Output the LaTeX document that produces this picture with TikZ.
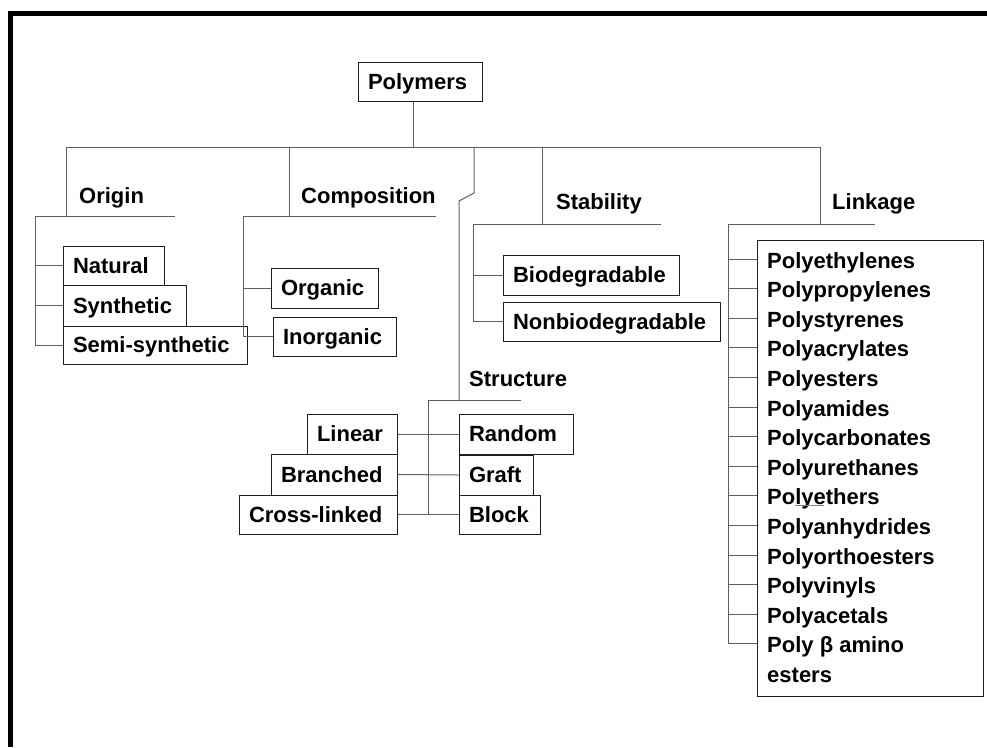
\documentclass[tikz,border=0pt]{standalone}
\usepackage{fontspec}
\setmainfont{Liberation Sans}
\definecolor{lncol}{RGB}{95,95,95}
\definecolor{bxcol}{RGB}{30,30,30}
\newcommand{\dgfont}{\bfseries\fontsize{22}{29.6}\selectfont}
\begin{document}
\begin{tikzpicture}[x=1pt,y=1pt,
  ln/.style={draw=lncol, line width=1pt},
  bx/.style={draw=bxcol, line width=1pt, rectangle, inner xsep=10pt, inner ysep=0pt,
    align=left, text height=15.75pt, text depth=0pt, font=\dgfont},
  lbl/.style={anchor=base west, inner sep=0pt, font=\dgfont},
  item/.style={anchor=base west, inner sep=0pt, font=\dgfont}]
\useasboundingbox (0,0) rectangle (987,-747);
% frame (top and left edges)
\fill[black] (8,-11) rectangle (987,-16);
\fill[black] (8,-11) rectangle (13,-747);

% boxes
\node[bx, text width=104pt, minimum height=39pt] (polymers) at (420,-81.5) {Polymers};
\node[bx, text width=81pt, minimum height=39pt] (natural) at (113.5,-265.5) {Natural};
\node[bx, text width=103pt, minimum height=41pt] (synthetic) at (124.5,-305.5) {Synthetic};
\node[bx, text width=164pt, minimum height=38pt] (semi) at (155,-345) {Semi-synthetic};
\node[bx, text width=87pt, minimum height=40pt] (organic) at (324.5,-288) {Organic};
\node[bx, text width=103pt, minimum height=39pt] (inorganic) at (334.5,-336.5) {Inorganic};
\node[bx, text width=156pt, minimum height=40pt] (bio) at (591,-275) {Biodegradable};
\node[bx, text width=197pt, minimum height=39pt] (nonbio) at (611.5,-321.5) {Nonbiodegradable};
\node[bx, text width=70pt, minimum height=40pt] (linear) at (352,-434) {Linear};
\node[bx, text width=106pt, minimum height=41pt] (branched) at (334,-474.5) {Branched};
\node[bx, text width=138pt, minimum height=39pt] (cross) at (318,-514.5) {Cross-linked};
\node[bx, text width=94pt, minimum height=40pt] (random) at (516,-434) {Random};
\node[bx, text width=54pt, minimum height=40pt] (graft) at (496,-475) {Graft};
\node[bx, text width=61pt, minimum height=39pt] (block) at (499.5,-514.5) {Block};
\node[draw=bxcol, line width=1pt, minimum width=226pt, minimum height=456pt, inner sep=0pt] (lkbox) at (870,-468) {};

% category labels
\node[lbl] (origin) at (79,-203) {Origin};
\node[lbl] (composition) at (301,-203) {Composition};
\node[lbl] (stability) at (556,-209) {Stability};
\node[lbl] (linkage) at (832,-209) {Linkage};
\node[lbl] (structure) at (469,-386) {Structure};

% linkage items
\foreach \i/\t in {0/Polyethylenes,1/Polypropylenes,2/Polystyrenes,3/Polyacrylates,
  4/Polyesters,5/Polyamides,6/Polycarbonates,7/Polyurethanes,8/Polyethers,
  9/Polyanhydrides,10/Polyorthoesters,11/Polyvinyls,12/Polyacetals,13/Poly β amino}{
  \node[item] (it\i) at (767,{-268-29.6*\i}) {\t};
  \coordinate (tk\i) at ([yshift=9pt]it\i.base west);
}
\node[item] (esters) at (767,-682.4) {esters};
\draw[lncol!80, line width=1pt] (795,-505.5) -- (824,-505.5);

% trunk
\coordinate (hub) at (413,-147);
\coordinate (hL) at (66,-147);
\coordinate (hR) at (820,-147);
\draw[ln] (hub |- polymers.south) -- (hub);
\draw[ln] (hL) -- (hR);

% Origin
\coordinate (ou) at (66,-216);
\coordinate (oL) at (35,-216);
\coordinate (oR) at (175,-216);
\draw[ln] (hL) -- (ou);
\draw[ln] (oL) -- (oR);
\draw[ln] (oL) |- (semi.west);
\draw[ln] (oL |- natural.west) -- (natural.west);
\draw[ln] (oL |- synthetic.west) -- (synthetic.west);

% Composition
\coordinate (cj) at (289,-147);
\coordinate (cu) at (289,-216);
\coordinate (cL) at (243,-216);
\coordinate (cR) at (436,-216);
\draw[ln] (cj) -- (cu);
\draw[ln] (cL) -- (cR);
\draw[ln] (cL) |- (inorganic.west);
\draw[ln] (cL |- organic.west) -- (organic.west);

% Structure
\coordinate (sj) at (474,-147);
\coordinate (sk1) at (474,-193);
\coordinate (sk2) at (459,-201);
\coordinate (sk3) at (459,-400);
\coordinate (sL) at (428,-400);
\coordinate (sR) at (521,-400);
\draw[ln] (sj) -- (sk1) -- (sk2) -- (sk3);
\draw[ln] (sL) -- (sR);
\draw[ln] (sL) -- (sL |- block.west);
\draw[ln] (linear.east) -- (random.west);
\draw[ln] (branched.east) -- (graft.west);
\draw[ln] (cross.east) -- (block.west);

% Stability
\coordinate (stj) at (542,-147);
\coordinate (stu) at (542,-224);
\coordinate (stL) at (473,-224);
\coordinate (stR) at (661,-224);
\draw[ln] (stj) -- (stu);
\draw[ln] (stL) -- (stR);
\draw[ln] (stL) |- (nonbio.west);
\draw[ln] (stL |- bio.west) -- (bio.west);

% Linkage
\coordinate (lu) at (820,-224);
\coordinate (lL) at (728,-224);
\coordinate (lR) at (875,-224);
\draw[ln] (hR) -- (lu);
\draw[ln] (lL) -- (lR);
\draw[ln] (lL) -- (tk13 -| lL);
\foreach \i in {0,...,13}{
  \draw[ln] (tk\i -| lL) -- (tk\i -| lkbox.west);
}
\end{tikzpicture}
\end{document}
